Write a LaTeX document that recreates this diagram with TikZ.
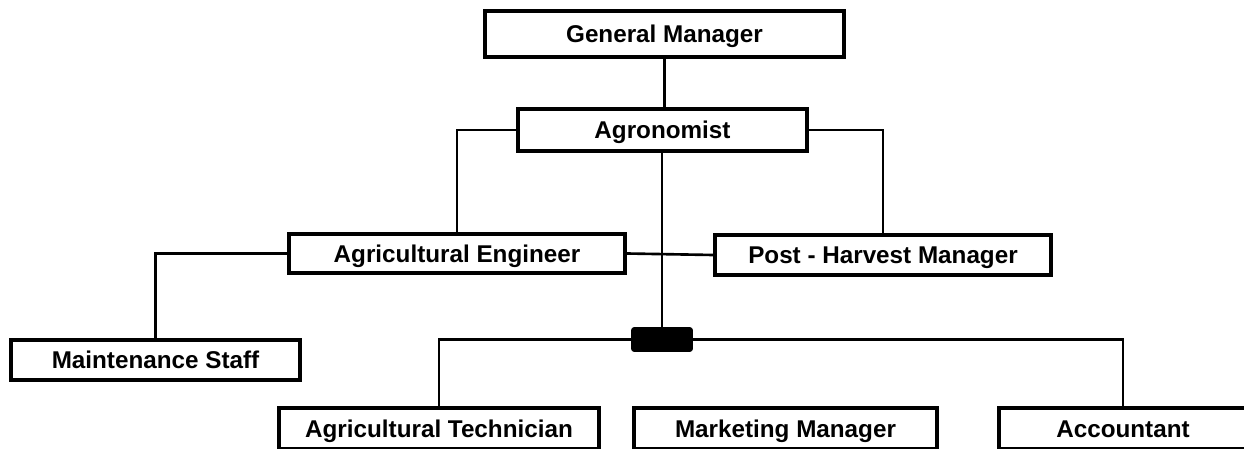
\documentclass[tikz,border=0pt]{standalone}
\usepackage{fontspec}
\setmainfont{Liberation Sans}
\usetikzlibrary{positioning}

\begin{document}
\begin{tikzpicture}[x=0.02cm, y=-0.02cm,
    post/.style={draw, line width=2pt, fill=white, inner sep=0pt,
      text height=9.9pt, text depth=0pt,
      font=\fontsize{13.8}{16}\selectfont\bfseries},
    link/.style={line width=1.5pt}]
      \useasboundingbox (0,0) rectangle (1244,449);
      \node[post, minimum width=7.18cm, minimum height=0.92cm] (gm) at (664.5, 34) {General Manager};
      \node[post, minimum width=5.78cm, minimum height=0.84cm] (agr) at (662.5, 130) {Agronomist};
      \node[post, minimum width=6.72cm, minimum height=0.78cm] (eng) at (457, 253.5) {Agricultural Engineer};
      \node[post, minimum width=6.72cm, minimum height=0.80cm] (ph) at (883, 255) {Post - Harvest Manager};
      \node[post, minimum width=5.78cm, minimum height=0.80cm] (maint) at (155.5, 360) {Maintenance Staff};
      \node[draw, fill=black, rounded corners=1.5pt, minimum width=1.22cm, minimum height=0.48cm, inner sep=0pt] (hub) at (662, 339.5) {};
      \node[post, minimum width=6.40cm, minimum height=0.82cm] (tech) at (439, 428.5) {Agricultural Technician};
      \node[post, minimum width=6.06cm, minimum height=0.82cm] (mkt) at (785.5, 428.5) {Marketing Manager};
      \node[post, minimum width=4.96cm, minimum height=0.82cm] (acc) at (1123, 428.5) {Accountant};
      \draw [link] (gm.south) -- (gm.south |- agr.north);
      \draw [link] (agr.west) -| (eng.north);
      \draw [link] (agr.east) -| (ph.north);
      \draw [link] (eng.west) -| (maint.north);
      \draw [link] (eng.east) -- (ph.west);
      \draw [link] (agr.south -| hub.north) -- (hub.north);
      \draw [link] (hub.west) -| (tech.north);
      \draw [link] (hub.east) -| (acc.north);
  \end{tikzpicture}
\end{document}
